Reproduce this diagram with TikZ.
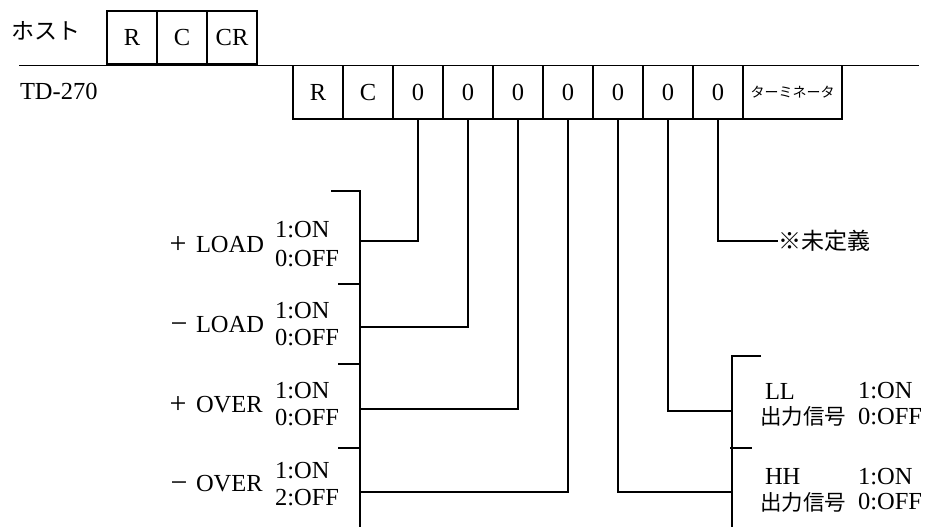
\documentclass[tikz,border=0pt]{standalone}
\usepackage{fontspec}
\setmainfont{Liberation Serif}
\newfontfamily\jp{Noto Sans CJK JP}
\begin{document}
\begin{tikzpicture}[x=1pt,y=-1pt,line width=1.6pt,
  cell/.style={draw,minimum width=50pt,minimum height=53.5pt,inner sep=0pt,outer sep=0pt,anchor=north west,font=\fontsize{24.5}{27}\selectfont},
  lbl/.style={inner sep=0pt,outer sep=0pt,anchor=west,font=\fontsize{24.5}{27}\selectfont},
  jlbl/.style={inner sep=0pt,outer sep=0pt,anchor=west,font=\jp\fontsize{21.5}{24}\selectfont},
  sgn/.style={inner sep=0pt,outer sep=0pt,anchor=base,font=\fontsize{30}{32}\selectfont}]
\useasboundingbox (0,0) rectangle (931,527);
% host row
\node[jlbl,font=\jp\fontsize{23}{26}\selectfont] (host) at (11,31) {ホスト};
\node[cell,minimum height=53pt] (h1) at (107,11) {R};
\node[cell,minimum height=53pt] (h2) at (157,11) {C};
\node[cell,minimum height=53pt] (h3) at (207,11) {CR};
% separator line
\coordinate (sepL) at (19,65.5);
\coordinate (sepR) at (919,65.5);
\draw (sepL) -- (sepR);
% TD-270 row
\node[lbl] (td) at (20,91.5) {TD-270};
\node[cell] (t1) at (293,65.5) {R};
\node[cell] (t2) at (343,65.5) {C};
\node[cell] (t3) at (393,65.5) {0};
\node[cell] (t4) at (443,65.5) {0};
\node[cell] (t5) at (493,65.5) {0};
\node[cell] (t6) at (543,65.5) {0};
\node[cell] (t7) at (593,65.5) {0};
\node[cell] (t8) at (643,65.5) {0};
\node[cell] (t9) at (693,65.5) {0};
\node[cell,minimum width=99pt,font=\jp\fontsize{14}{16}\selectfont] (t10) at (743,65.5) {ターミネータ};
% left bracket
\coordinate (lbT) at (360,191);
\coordinate (lbB) at (360,527);
\coordinate (lk1) at (331,191);
\coordinate (lk2) at (338,284);
\coordinate (lk3) at (338,364);
\coordinate (lk4) at (338,448);
\coordinate (lc2) at (360,284);
\coordinate (lc3) at (360,364);
\coordinate (lc4) at (360,448);
\draw (lk1) -- (lbT) -- (lbB);
\draw (lk2) -- (lc2);
\draw (lk3) -- (lc3);
\draw (lk4) -- (lc4);
\coordinate (la) at (360,241);
\coordinate (lb) at (360,327);
\coordinate (lc) at (360,409);
\coordinate (ld) at (360,492);
\draw (t3.south) |- (la);
\draw (t4.south) |- (lb);
\draw (t5.south) |- (lc);
\draw (t6.south) |- (ld);
% right bracket
\coordinate (rbT) at (732,356);
\coordinate (rbB) at (732,527);
\coordinate (rk1) at (761,356);
\coordinate (rk2a) at (730,448);
\coordinate (rk2b) at (752,448);
\draw (rk1) -- (rbT) -- (rbB);
\draw (rk2a) -- (rk2b);
\coordinate (ra) at (732,411);
\coordinate (rb) at (732,492);
\draw (t8.south) |- (ra);
\draw (t7.south) |- (rb);
% undefined
\node[jlbl,font=\jp\fontsize{23}{26}\selectfont] (undef) at (778,241) {※未定義};
\draw (t9.south) |- (undef.west);
% left labels
\node[lbl] (w1) at (196,245) {LOAD};
\node[sgn] (s1) at (178,253.5) {+};
\node[lbl] (a1) at (275,230) {1:ON};
\node[lbl] (b1) at (275,258.5) {0:OFF};
\node[lbl] (w2) at (196,325) {LOAD};
\node[sgn] (s2) at (179,333.5) {−};
\node[lbl] (a2) at (275,310.5) {1:ON};
\node[lbl] (b2) at (275,337.5) {0:OFF};
\node[lbl] (w3) at (196,405) {OVER};
\node[sgn] (s3) at (178,413.5) {+};
\node[lbl] (a3) at (275,390.5) {1:ON};
\node[lbl] (b3) at (275,418) {0:OFF};
\node[lbl] (w4) at (196,484) {OVER};
\node[sgn] (s4) at (179,492.5) {−};
\node[lbl] (a4) at (275,470.5) {1:ON};
\node[lbl] (b4) at (275,498) {2:OFF};
% right labels
\node[lbl] (ll) at (765,391) {LL};
\node[lbl] (lla) at (858,391) {1:ON};
\node[jlbl] (llj) at (760,416.5) {出力信号};
\node[lbl] (llb) at (858,417) {0:OFF};
\node[lbl] (hh) at (765,476.5) {HH};
\node[lbl] (hha) at (858,476.5) {1:ON};
\node[jlbl] (hhj) at (760,502) {出力信号};
\node[lbl] (hhb) at (858,502) {0:OFF};
\end{tikzpicture}
\end{document}
